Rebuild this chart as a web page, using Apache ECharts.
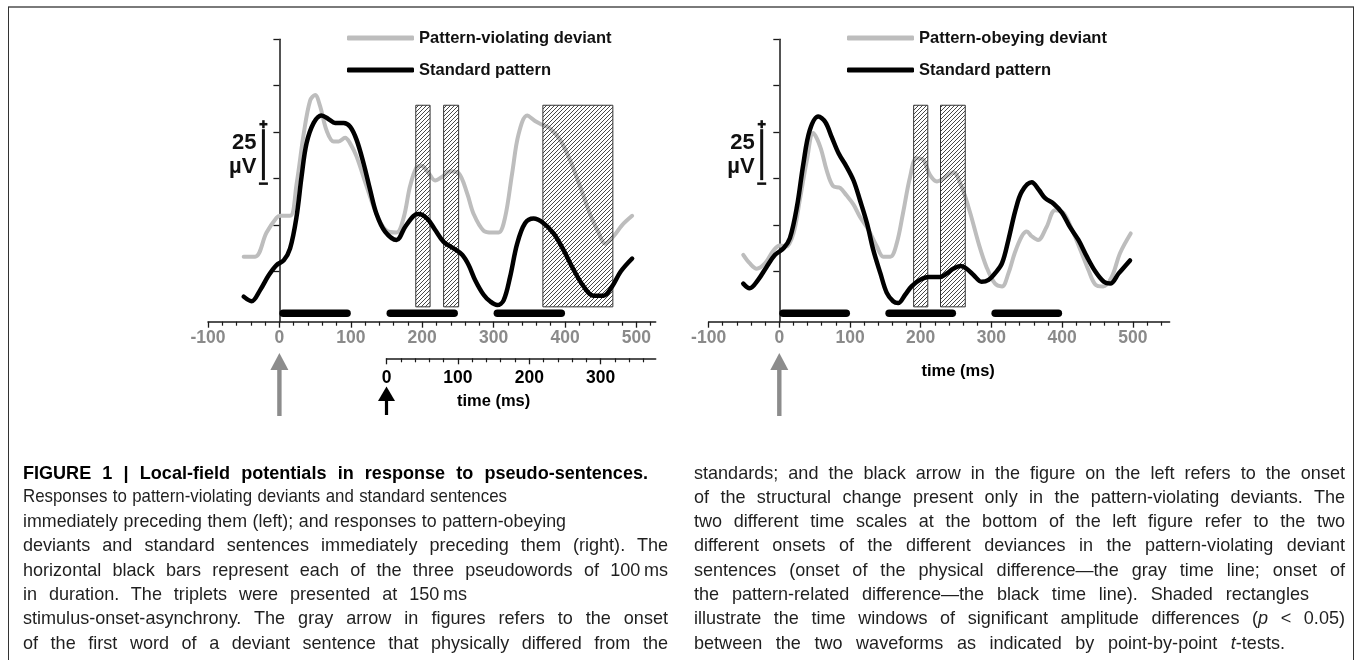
<!DOCTYPE html>
<html>
<head>
<meta charset="utf-8">
<script src="https://cdn.jsdelivr.net/npm/echarts@6/dist/echarts.min.js"></script>
<style>
html,body{margin:0;padding:0;background:#fff;width:1355px;height:660px;overflow:hidden;}
#chart{position:absolute;left:0;top:0;width:1355px;height:660px;}
.frame-top{position:absolute;left:8px;top:6px;width:1346px;height:2px;background:#7a7a7a;}
.frame-l{position:absolute;left:8px;top:7px;width:1px;height:653px;background:#333;}
.frame-r{position:absolute;left:1353px;top:7px;width:1px;height:653px;background:#333;}
.cap{position:absolute;font-family:'Liberation Sans',Arial,Helvetica,sans-serif;font-size:19px;color:#1f1f1f;white-space:nowrap;text-align:justify;text-align-last:justify;line-height:23px;height:23px;transform-origin:0 50%;}
.cap.b{font-weight:bold;color:#000;}
</style>
</head>
<body>
<div id="chart"></div>
<div class="frame-top"></div><div class="frame-l"></div><div class="frame-r"></div>
<div id="caption"></div>
<script>
// ---------------- DATA ----------------
// time (ms) / amplitude (µV)
const leftDeviant = [[-50,33],[-34,33],[-18,46],[-4,54],[1,55],[15,55],[24,72],[34,99],[43,117],[50,120],[57,114],[66,101],[76,95],[83,95],[92,97],[99,94],[108,87],[122,71],[136,56],[150,47],[164,46],[174,54],[183,71],[192,81],[199,82],[209,78],[218,74],[228,76],[239,79],[251,78],[263,67],[272,56],[286,47],[298,46],[307,46],[316,54],[326,78],[335,99],[347,109],[358,106],[368,104],[379,102],[393,96],[407,85],[421,71],[435,56],[447,46],[456,40],[468,44],[480,50],[494,55]];
const leftStandard = [[-50,11.5],[-39,9],[-27,15],[-15,23],[-4,28.5],[6,31],[15,37.5],[24,54.5],[31,76],[38,94],[48,105],[59,109],[69,107],[78,105],[90,105],[99,103],[108,96],[118,83],[127,69],[136,56],[148,46.5],[164,42],[176,49],[188,55],[195,56],[207,53.5],[218,47.5],[230,41],[244,37.5],[256,34],[265,28.5],[274,20.5],[286,12.5],[295,9],[305,7],[314,9.5],[323,22],[333,40],[344,51],[356,53.5],[370,51],[384,45.5],[398,36.5],[412,26],[426,17],[440,12],[454,12],[466,17],[478,25],[494,32]];
const rightDeviant = [[-51,34],[-42,29.5],[-32,26.5],[-20,29.5],[-8,36.5],[1,39],[10,38.5],[20,45.5],[29,63.5],[39,85],[48,99.5],[58,92],[67,79.5],[76,71],[86,70],[95,66],[105,61],[114,54.5],[126,47.5],[138,38.5],[147,33],[157,33],[166,40],[175,56.5],[185,76],[194,86],[204,85],[213,77],[223,73.5],[232,75],[246,78.5],[258,70.5],[270,56.5],[282,40],[293,27.5],[305,18.5],[315,17],[324,24],[333,35],[343,44],[350,46.5],[357,44],[366,42],[378,49],[390,58],[402,56.5],[414,47.5],[426,36.5],[437,26],[447,18],[458,17],[470,22],[482,35],[497,45.5]];
const rightStandard = [[-51,18.5],[-42,16],[-30,20.5],[-18,27.5],[-6,34],[6,37.5],[15,43],[25,60],[34,83],[43,101],[55,108.5],[65,105.5],[74,97.5],[84,88.5],[95,81.5],[105,74],[114,63.5],[124,51],[133,36.5],[143,24],[152,13.5],[161,9],[168,8],[178,12.5],[187,17],[199,20.5],[211,22],[227,22],[237,24],[246,26.5],[256,28],[265,26.5],[275,23],[286,19.5],[296,20.5],[305,24],[315,29.5],[324,42],[334,58],[343,68],[357,73],[367,69],[376,64.5],[388,61.5],[400,56.5],[411,49],[423,42],[435,33],[447,25],[459,19.5],[468,18.5],[480,24],[496,31]];
// significant windows [start ms, end ms]
const leftWindows = [[191,211],[230,251],[369,467]];
const rightWindows = [[190,210],[228,263]];
const windowAmpRange = [6, 114.5];
// pseudoword onsets (ms) and duration
const wordOnsets = [0,150,300];
const wordDuration = 100;
const wordBarLevel = 2.5;
// ticks
const timeMajorTicks = [-100,0,100,200,300,400,500];
const timeMinorTicks = [-80,-60,-40,-20,20,40,60,80,120,140,160,180,220,240,260,280,320,340,360,380,420,440,460,480,520,540];
const shiftedMajorTicks = [0,100,200,300];
const shiftedMinorTicks = [20,40,60,80,120,140,160,180,220,240,260,280,320,340,360];
const ampTicks = [25,50,75,100,125,150];
const scaleBar = {from:75, to:100, label:['25','µV']};
const legendLeft = ['Pattern-violating deviant','Standard pattern'];
const legendRight = ['Pattern-obeying deviant','Standard pattern'];
const captionLeft = [
 'FIGURE 1 | Local-field potentials in response to pseudo-sentences.',
 'Responses to pattern-violating deviants and standard sentences',
 'immediately preceding them (left); and responses to pattern-obeying',
 'deviants and standard sentences immediately preceding them (right). The',
 'horizontal black bars represent each of the three pseudowords of 100\u2009ms',
 'in duration. The triplets were presented at 150\u2009ms',
 'stimulus-onset-asynchrony. The gray arrow in figures refers to the onset',
 'of the first word of a deviant sentence that physically differed from the'
];
const captionRight = [
 'standards; and the black arrow in the figure on the left refers to the onset',
 'of the structural change present only in the pattern-violating deviants. The',
 'two different time scales at the bottom of the left figure refer to the two',
 'different onsets of the different deviances in the pattern-violating deviant',
 'sentences (onset of the physical difference\u2014the gray time line; onset of',
 'the pattern-related difference\u2014the black time line). Shaded rectangles',
 'illustrate the time windows of significant amplitude differences (<i>p</i> &lt; 0.05)',
 'between the two waveforms as indicated by point-by-point <i>t</i>-tests.'
];

// ---------------- CAPTION (HTML text) ----------------
const capLeftEnds = [648,507,566,668,668,467,668,668];
const capRightEnds = [1345,1345,1345,1345,1345,1309,1345,1285];
(function(){
  const box = document.getElementById('caption');
  const SX = 0.95;
  function put(lines, x0, ends, boldFirst){
    lines.forEach((t,i)=>{
      const d = document.createElement('div');
      d.className = 'cap' + (boldFirst && i===0 ? ' b' : '');
      d.innerHTML = t;
      d.style.left = x0 + 'px';
      d.style.top = (460.5 + i*24.3) + 'px';
      d.style.width = ((ends[i]-x0)/SX) + 'px';
      d.style.transform = 'scaleX(' + SX + ')';
      box.appendChild(d);
      let fs = 19;
      while (d.scrollWidth > d.clientWidth + 1 && fs > 16) { fs -= 0.25; d.style.fontSize = fs + 'px'; }
      if (d.scrollWidth > d.clientWidth + 1) { d.style.width = d.scrollWidth + 'px'; }
    });
  }
  put(captionLeft, 23, capLeftEnds, true);
  put(captionRight, 694, capRightEnds, false);
})();

// ---------------- CHART ----------------
const FONT = "'Liberation Sans', Arial, Helvetica, sans-serif";
const GRAY_LABEL = '#8a8a8a';
const GRAY_LINE = '#bdbdbd';
const AXIS_COLOR = '#1a1a1a';

const hatchCanvas = document.createElement('canvas');
hatchCanvas.width = 4; hatchCanvas.height = 4;
(function(){
  const c = hatchCanvas.getContext('2d');
  c.strokeStyle = '#333'; c.lineWidth = 0.9;
  c.beginPath();
  c.moveTo(0,4); c.lineTo(4,0);
  c.moveTo(-1,1); c.lineTo(1,-1);
  c.moveTo(3,5); c.lineTo(5,3);
  c.stroke();
})();
const hatch = {image: hatchCanvas, repeat: 'repeat'};

function mainTimeAxis(gridIndex, min, max, majors, labelColor, margin){
  return {
    type:'value', gridIndex, min, max, position:'bottom',
    axisLine:{show:true, onZero:false, lineStyle:{color:AXIS_COLOR, width:1.5}},
    axisTick:{show:true, customValues:majors, length:6, lineStyle:{color:AXIS_COLOR, width:1.3}},
    axisLabel:{show:true, customValues:majors, color:labelColor, fontFamily:FONT, fontWeight:'bold', fontSize:17.5, margin},
    splitLine:{show:false}
  };
}
function minorTimeAxis(gridIndex, min, max, minors){
  return {
    type:'value', gridIndex, min, max, position:'bottom',
    axisLine:{show:false, onZero:false},
    axisTick:{show:true, customValues:minors, length:4, lineStyle:{color:AXIS_COLOR, width:1.2}},
    axisLabel:{show:false}, splitLine:{show:false}
  };
}
function ampAxis(gridIndex){
  return {
    type:'value', gridIndex, min:-2, max:150,
    axisLine:{show:true, onZero:true, lineStyle:{color:AXIS_COLOR, width:1.5}},
    axisTick:{show:true, customValues:ampTicks, length:6, lineStyle:{color:AXIS_COLOR, width:1.3}},
    axisLabel:{show:false}, splitLine:{show:false}
  };
}
function waveSeries(name, data, xi, yi, color, width, z){
  return {type:'line', name, data, xAxisIndex:xi, yAxisIndex:yi, smooth:0.35, symbol:'none',
    itemStyle:{color}, lineStyle:{color, width, cap:'round', join:'round'}, z, silent:true};
}
function windowSeries(wins, xi, yi){
  return {type:'custom', xAxisIndex:xi, yAxisIndex:yi, z:3, silent:true,
    data: wins.map(w=>[w[0], w[1], windowAmpRange[0], windowAmpRange[1]]),
    encode:{x:[0,1], y:[2,3]},
    renderItem:function(params, api){
      const a = api.coord([api.value(0), api.value(3)]);
      const b = api.coord([api.value(1), api.value(2)]);
      return {type:'rect', shape:{x:a[0], y:a[1], width:b[0]-a[0], height:b[1]-a[1]},
        style:{fill:hatch, stroke:'#333', lineWidth:1}};
    }};
}
function wordSeries(xi, yi){
  return {type:'custom', xAxisIndex:xi, yAxisIndex:yi, z:5, silent:true,
    data: wordOnsets.map(o=>[o, o+wordDuration, wordBarLevel]),
    encode:{x:[0,1], y:2},
    renderItem:function(params, api){
      const a = api.coord([api.value(0), api.value(2)]);
      const b = api.coord([api.value(1), api.value(2)]);
      const h = 7.5;
      return {type:'rect', shape:{x:a[0], y:a[1]-h/2, width:b[0]-a[0], height:h, r:h/2}, style:{fill:'#000'}};
    }};
}
function legendCfg(data, left){
  return {data, left, top:28, orient:'vertical', padding:0, itemWidth:67, itemHeight:5, itemGap:12,
    icon:'roundRect', selectedMode:false,
    textStyle:{fontFamily:FONT, fontWeight:'bold', fontSize:16.5, color:'#111', lineHeight:20}};
}

const chart = echarts.init(document.getElementById('chart'));
const option = {
  animation:false,
  backgroundColor:'transparent',
  grid:[
    {left:208, top:39.3, width:447.7, height:282.4, outerBoundsMode:'none', containLabel:false},
    {left:708.6, top:39.3, width:461, height:282.4, outerBoundsMode:'none', containLabel:false},
    {left:386.5, top:340, width:269.2, height:18.3, outerBoundsMode:'none', containLabel:false}
  ],
  legend:[legendCfg(legendLeft, 347), legendCfg(legendRight, 847)],
  xAxis:[
    mainTimeAxis(0, -100, 527, timeMajorTicks, GRAY_LABEL, 7.5),
    minorTimeAxis(0, -100, 527, timeMinorTicks),
    mainTimeAxis(1, -100, 552, timeMajorTicks, GRAY_LABEL, 7.5),
    minorTimeAxis(1, -100, 552, timeMinorTicks),
    mainTimeAxis(2, 0, 377, shiftedMajorTicks, '#000', 10.5),
    minorTimeAxis(2, 0, 377, shiftedMinorTicks)
  ],
  yAxis:[ampAxis(0), ampAxis(1), {type:'value', gridIndex:2, min:0, max:1, show:false}],
  series:[
    waveSeries(legendLeft[0], leftDeviant, 0, 0, GRAY_LINE, 4, 2),
    windowSeries(leftWindows, 0, 0),
    waveSeries(legendLeft[1], leftStandard, 0, 0, '#000', 4.5, 4),
    wordSeries(0, 0),
    waveSeries(legendRight[0], rightDeviant, 2, 1, GRAY_LINE, 4, 2),
    windowSeries(rightWindows, 2, 1),
    waveSeries(legendRight[1], rightStandard, 2, 1, '#000', 4.5, 4),
    wordSeries(2, 1),
    {type:'line', data:[], xAxisIndex:4, yAxisIndex:2, symbol:'none'}
  ]
};
chart.setOption(option);

// ---------------- ANNOTATIONS (scale bars, arrows, axis titles) ----------------
function buildGraphics(){
  const els = [];
  const sbX = [-22.4, -24.9];
  [0,1].forEach(g=>{
    const top = chart.convertToPixel({gridIndex:g}, [sbX[g], scaleBar.to]);
    const bot = chart.convertToPixel({gridIndex:g}, [sbX[g], scaleBar.from]);
    const x = top[0];
    els.push({type:'line', shape:{x1:x, y1:top[1]-3, x2:x, y2:bot[1]+1.5}, style:{stroke:'#111', lineWidth:3}});
    els.push({type:'line', shape:{x1:x-4, y1:top[1]-8, x2:x+4, y2:top[1]-8}, style:{stroke:'#111', lineWidth:2.5}});
    els.push({type:'line', shape:{x1:x, y1:top[1]-12, x2:x, y2:top[1]-4}, style:{stroke:'#111', lineWidth:2.5}});
    els.push({type:'line', shape:{x1:x-4.5, y1:bot[1]+5, x2:x+4.5, y2:bot[1]+5}, style:{stroke:'#111', lineWidth:2.5}});
    els.push({type:'text', x:x-7, y:top[1]+11, style:{text:scaleBar.label[0], fill:'#111', font:'bold 22px ' + FONT, align:'right', verticalAlign:'middle'}});
    els.push({type:'text', x:x-7, y:top[1]+34.5, style:{text:scaleBar.label[1], fill:'#111', font:'bold 22px ' + FONT, align:'right', verticalAlign:'middle'}});
    // gray onset arrow at time 0
    const z = chart.convertToPixel({gridIndex:g}, [0, 0]);
    const gx = z[0];
    els.push({type:'rect', shape:{x:gx-2.2, y:368, width:4.4, height:48}, style:{fill:'#8c8c8c'}});
    els.push({type:'polygon', shape:{points:[[gx,353],[gx-9,370],[gx+9,370]]}, style:{fill:'#8c8c8c'}});
  });
  // black arrow at structural change onset (0 of shifted time line)
  const b0 = chart.convertToPixel({gridIndex:2}, [0, 0]);
  els.push({type:'rect', shape:{x:b0[0]-1.6, y:399, width:3.2, height:16}, style:{fill:'#000'}});
  els.push({type:'polygon', shape:{points:[[b0[0],386.5],[b0[0]-8.5,401],[b0[0]+8.5,401]]}, style:{fill:'#000'}});
  // axis titles
  const tl = chart.convertToPixel({gridIndex:2}, [150, 0]);
  els.push({type:'text', x:tl[0], y:401.7, style:{text:'time (ms)', fill:'#000', font:'bold 16.5px ' + FONT, align:'center', verticalAlign:'middle'}});
  const tr = chart.convertToPixel({gridIndex:1}, [253, 0]);
  els.push({type:'text', x:tr[0], y:371.7, style:{text:'time (ms)', fill:'#000', font:'bold 16.5px ' + FONT, align:'center', verticalAlign:'middle'}});
  chart.setOption({graphic:{elements:els.map(e=>Object.assign({z:100, silent:true}, e))}});
}
buildGraphics();
</script>
</body>
</html>
